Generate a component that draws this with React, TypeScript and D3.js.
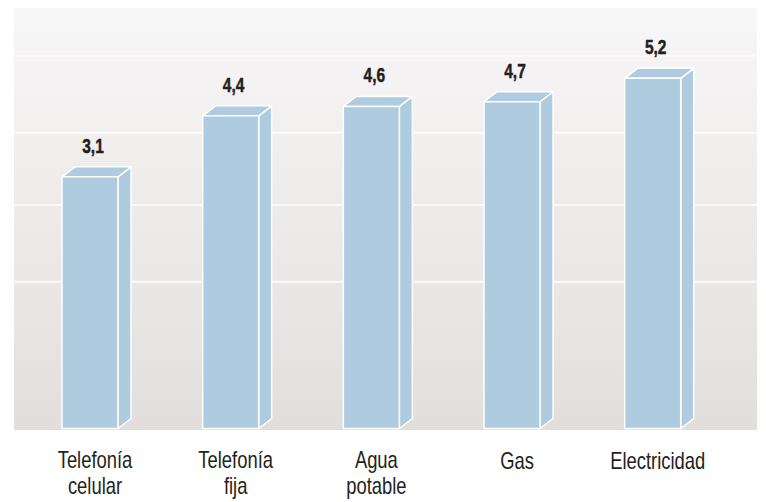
import React from "react";
import * as d3 from "d3";

const categories: string[][] = [
  ["Telefonía", "celular"],
  ["Telefonía", "fija"],
  ["Agua", "potable"],
  ["Gas"],
  ["Electricidad"],
];
const values: number[] = [3.1, 4.4, 4.6, 4.7, 5.2];
const valueLabels: string[] = ["3,1", "4,4", "4,6", "4,7", "5,2"];
const gridValues: number[] = [0.86, 2.5, 4.04, 5.68];

const W = 766;
const H = 502;
const plot = { left: 14, right: 757, top: 8, bottom: 430 };
const barW = 56;
const depthX = 13;
const depthY = 10;
const barFill = "#aecbe0";
const textColor = "#231f20";

export default function App() {
  const keys = categories.map((c) => c.join(" "));
  const x = d3.scalePoint<string>().domain(keys).range([90, 652.7]);
  const y = d3.scaleLinear().domain([-2.3, 6.7]).range([plot.bottom, plot.top]);

  return (
    <svg
      width={W}
      height={H}
      style={{ position: "absolute", left: 0, top: 0, background: "#ffffff" }}
      fontFamily="'Liberation Sans', Arial, sans-serif"
    >
      <defs>
        <linearGradient id="bg" x1="0" y1="0" x2="0" y2="1">
          <stop offset="0" stopColor="#f8f7f7" />
          <stop offset="1" stopColor="#e2dedc" />
        </linearGradient>
      </defs>
      <rect
        x={plot.left}
        y={plot.top}
        width={plot.right - plot.left}
        height={plot.bottom - plot.top}
        fill="url(#bg)"
      />
      {gridValues.map((g, i) => (
        <line
          key={i}
          x1={plot.left}
          x2={plot.right}
          y1={y(g)}
          y2={y(g)}
          stroke="#fbfafa"
          strokeWidth={2}
        />
      ))}
      {values.map((v, i) => {
        const cx = x(keys[i]) as number;
        const x0 = cx - barW / 2;
        const x1 = cx + barW / 2;
        const yt = y(v);
        const yb = plot.bottom - 1.5;
        const top = `M${x0},${yt} L${x0 + depthX},${yt - depthY} L${x1 + depthX},${yt - depthY} L${x1},${yt} Z`;
        const side = `M${x1},${yt} L${x1 + depthX},${yt - depthY} L${x1 + depthX},${yb - depthY} L${x1},${yb} Z`;
        return (
          <g key={i} stroke="#ffffff" strokeWidth={1.5} strokeLinejoin="round" fill={barFill}>
            <path d={side} />
            <path d={top} />
            <rect x={x0} y={yt} width={barW} height={yb - yt} />
          </g>
        );
      })}
      {values.map((v, i) => {
        const cx = (x(keys[i]) as number) + 3;
        return (
          <text
            key={i}
            transform={`translate(${cx},${y(v) - 24}) scale(0.74,1)`}
            textAnchor="middle"
            fontSize={21}
            fontWeight="bold"
            fill={textColor}
            stroke={textColor}
            strokeWidth={0.5}
          >
            {valueLabels[i]}
          </text>
        );
      })}
      {categories.map((lines, i) => {
        const cx = (x(keys[i]) as number) + 5;
        return lines.map((ln, j) => (
          <text
            key={`${i}-${j}`}
            transform={`translate(${cx},${(lines.length > 1 ? 468 : 469) + j * 26}) scale(0.8,1)`}
            textAnchor="middle"
            fontSize={23}
            fill={textColor}
          >
            {ln}
          </text>
        ));
      })}
    </svg>
  );
}
